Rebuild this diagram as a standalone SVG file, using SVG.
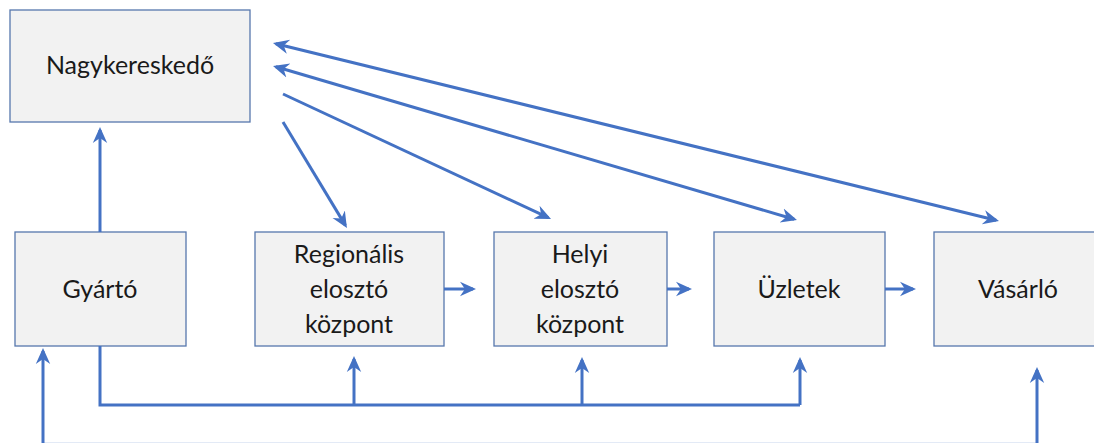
<svg xmlns="http://www.w3.org/2000/svg" width="1094" height="443" viewBox="0 0 1094 443">
  <style>
    .box { fill: #f2f2f2; stroke: #5677ad; stroke-width: 1.3; }
    .lbl { font-family: Lato, "Liberation Sans", sans-serif; font-size: 25px; fill: #1a1a1a; text-anchor: middle; }
    .wire { fill: none; stroke: #4472c4; stroke-width: 3; }
    .arr { marker-end: url(#head); }
    .both { marker-start: url(#head); marker-end: url(#head); }
  </style>
  <defs>
    <marker id="head" markerUnits="userSpaceOnUse" markerWidth="18" markerHeight="18" viewBox="0 0 18 18" refX="13" refY="9" orient="auto-start-reverse">
      <path d="M0,1.8 L16,9 L0,16.2 L5,9 z" fill="#4472c4"/>
    </marker>
  </defs>

  <g id="nagykereskedo">
    <rect class="box" x="10" y="10" width="240" height="112"/>
    <text class="lbl" x="130" y="74">Nagykereskedő</text>
  </g>
  <g id="gyarto">
    <rect class="box" x="15" y="232" width="171" height="114"/>
    <text class="lbl" x="100" y="298">Gyártó</text>
  </g>
  <g id="regionalis">
    <rect class="box" x="255" y="232" width="189" height="114"/>
    <text class="lbl" x="349" y="263">Regionális</text>
    <text class="lbl" x="349" y="298">elosztó</text>
    <text class="lbl" x="349" y="333">központ</text>
  </g>
  <g id="helyi">
    <rect class="box" x="494" y="232" width="173" height="114"/>
    <text class="lbl" x="580" y="263">Helyi</text>
    <text class="lbl" x="580" y="298">elosztó</text>
    <text class="lbl" x="580" y="333">központ</text>
  </g>
  <g id="uzletek">
    <rect class="box" x="714" y="232" width="171" height="114"/>
    <text class="lbl" x="799" y="298">Üzletek</text>
  </g>
  <g id="vasarlo">
    <rect class="box" x="934" y="232" width="180" height="114"/>
    <text class="lbl" x="1018" y="298">Vásárló</text>
  </g>

  <g id="connectors">
    <!-- manufacturer up to wholesaler -->
    <line class="wire arr" x1="100" y1="232" x2="100" y2="130"/>
    <!-- wholesaler links -->
    <line class="wire both" x1="275.9" y1="43.7" x2="996.1" y2="220.3"/>
    <line class="wire both" x1="275.9" y1="66.8" x2="794.1" y2="219.2"/>
    <line class="wire arr" x1="283" y1="94" x2="548.3" y2="217.7"/>
    <line class="wire arr" x1="283" y1="122" x2="345.4" y2="225.4"/>
    <!-- chain left to right -->
    <line class="wire arr" x1="444" y1="289" x2="473" y2="289"/>
    <line class="wire arr" x1="667" y1="289" x2="689" y2="289"/>
    <line class="wire arr" x1="885" y1="289" x2="913" y2="289"/>
    <!-- manufacturer bus under the row -->
    <polyline class="wire" points="100,346 100,405 800,405"/>
    <line class="wire arr" x1="354" y1="405" x2="354" y2="359"/>
    <line class="wire arr" x1="582" y1="405" x2="582" y2="360"/>
    <line class="wire arr" x1="800" y1="405" x2="800" y2="360"/>
    <!-- return loop along the bottom edge -->
    <line x1="43" y1="442.5" x2="1037" y2="442.5" stroke="#4472c4" stroke-width="1" stroke-opacity="0.15"/>
    <line class="wire arr" x1="43" y1="446" x2="43" y2="351"/>
    <line class="wire arr" x1="1037" y1="446" x2="1037" y2="370"/>
  </g>
</svg>
